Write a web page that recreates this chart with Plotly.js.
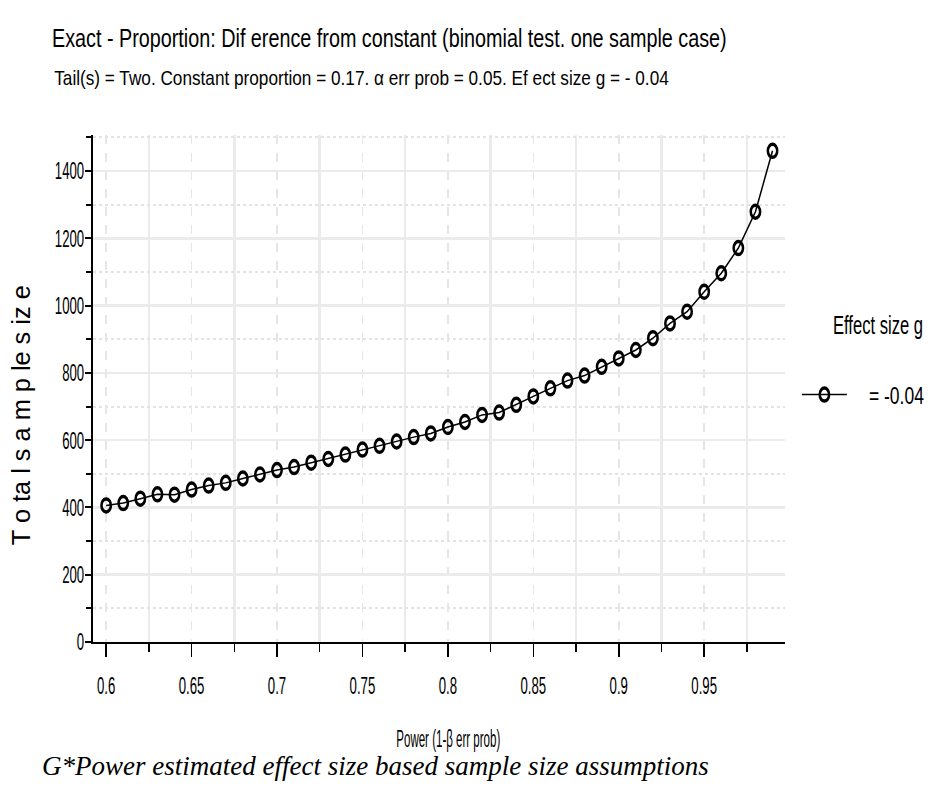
<!DOCTYPE html>
<html>
<head>
<meta charset="utf-8">
<script src="https://cdn.plot.ly/plotly-3.0.1.min.js"></script>
<style>
  html, body { margin: 0; padding: 0; background: #ffffff; }
  #chart { width: 945px; height: 803px; }
</style>
</head>
<body>
<div id="chart"></div>
<script>
// Power (1-β err prob) on the x axis
const power = [
  0.60, 0.61, 0.62, 0.63, 0.64, 0.65, 0.66, 0.67, 0.68, 0.69,
  0.70, 0.71, 0.72, 0.73, 0.74, 0.75, 0.76, 0.77, 0.78, 0.79,
  0.80, 0.81, 0.82, 0.83, 0.84, 0.85, 0.86, 0.87, 0.88, 0.89,
  0.90, 0.91, 0.92, 0.93, 0.94, 0.95, 0.96, 0.97, 0.98, 0.99
];

// Total sample size required at each power level (g = -0.04)
const totalSampleSize = [
  406, 413, 426, 439, 438, 453, 465, 473, 486, 498,
  511, 520, 533, 544, 557, 572, 583, 596, 609, 620,
  639, 654, 675, 682, 705, 730, 754, 777, 792, 818,
  843, 868, 903, 947, 982, 1041, 1096, 1171, 1279, 1460
];

const xTickVals = [0.6, 0.65, 0.7, 0.75, 0.8, 0.85, 0.9, 0.95];
const xTickText = ['0.6', '0.65', '0.7', '0.75', '0.8', '0.85', '0.9', '0.95'];
const yTickVals = [0, 200, 400, 600, 800, 1000, 1200, 1400];
const yTickText = ['0', '200', '400', '600', '800', '1000', '1200', '1400'];

const seriesName = '= -0.04';
const titleText = 'Exact - Proportion: Dif erence from constant (binomial test. one sample case)';
const subtitleText = 'Tail(s) = Two. Constant proportion = 0.17. α err prob = 0.05. Ef ect size g = - 0.04';
const xTitle = 'Power (1-β err prob)';
const yTitle = 'T o ta l s a m p le s iz e';
const legendHeading = 'Effect size g';
const caption = 'G*Power estimated effect size based sample size assumptions';

const sans = '"Liberation Sans", Arial, sans-serif';
const serif = '"Liberation Serif", "Times New Roman", serif';

// plot area in pixels
const M = { l: 93, r: 154, t: 135, b: 161 };
const W = 945, H = 803;
const pw = W - M.l - M.r, ph = H - M.t - M.b;
const px = v => (v - M.l) / pw;          // pixel x -> paper x
const py = v => (H - M.b - v) / ph;      // pixel y -> paper y

const trace = {
  type: 'scatter',
  mode: 'lines+markers',
  x: power,
  y: totalSampleSize,
  name: seriesName,
  line: { color: '#000000', width: 1.5 },
  marker: {
    symbol: 'circle-open',
    size: 13,
    color: '#000000',
    line: { color: '#000000', width: 3.5 }
  },
  hoverinfo: 'x+y'
};

const layout = {
  width: W,
  height: H,
  paper_bgcolor: '#ffffff',
  plot_bgcolor: '#ffffff',
  margin: M,
  font: { family: sans, color: '#000000', size: 16 },
  title: {
    text: titleText,
    font: { family: sans, size: 25, color: '#000000' },
    xref: 'container', yref: 'container',
    x: 52 / W, xanchor: 'left',
    y: 1 - 38 / H, yanchor: 'middle'
  },
  showlegend: true,
  legend: {
    x: px(803), xanchor: 'left',
    y: py(395), yanchor: 'middle',
    bgcolor: 'rgba(0,0,0,0)',
    borderwidth: 0,
    font: { family: sans, size: 24, color: '#000000' },
    itemwidth: 45
  },
  xaxis: {
    range: [0.5923, 0.9973],
    showline: true, linecolor: '#000000', linewidth: 2,
    zeroline: false,
    tickmode: 'array', tickvals: xTickVals, ticktext: xTickText,
    ticks: 'outside', ticklen: 13, tickwidth: 1.5, tickcolor: '#000000',
    ticklabelstandoff: 8,
    tickfont: { family: sans, size: 24, color: '#000000' },
    showgrid: true, gridcolor: '#e6e6e6', gridwidth: 1.5, griddash: 'dash',
    minor: {
      tick0: 0.625, dtick: 0.05,
      ticks: 'outside', ticklen: 8, tickwidth: 1.5, tickcolor: '#000000',
      showgrid: true, gridcolor: '#ebebeb', gridwidth: 2.5, griddash: 'solid'
    }
  },
  yaxis: {
    range: [0, 1507],
    showline: true, linecolor: '#000000', linewidth: 2,
    zeroline: false,
    tickmode: 'array', tickvals: yTickVals, ticktext: yTickText,
    ticks: 'outside', ticklen: 6, tickwidth: 2, tickcolor: '#000000',
    tickfont: { family: sans, size: 24, color: '#000000' },
    showgrid: true, gridcolor: '#ebebeb', gridwidth: 2.5, griddash: 'solid',
    minor: {
      tick0: 100, dtick: 200,
      ticks: 'outside', ticklen: 5, tickwidth: 2, tickcolor: '#000000',
      showgrid: true, gridcolor: '#e3e3e3', gridwidth: 2, griddash: 'dot'
    }
  },
  annotations: [
    {
      text: subtitleText,
      xref: 'paper', yref: 'paper',
      x: px(52), xanchor: 'left',
      y: py(78), yanchor: 'middle',
      showarrow: false,
      font: { family: sans, size: 20, color: '#000000' }
    },
    {
      text: xTitle,
      xref: 'paper', yref: 'paper',
      x: px(452), xanchor: 'center',
      y: py(738), yanchor: 'middle',
      showarrow: false,
      font: { family: sans, size: 24, color: '#000000' }
    },
    {
      text: yTitle,
      xref: 'paper', yref: 'paper',
      x: px(20), xanchor: 'center',
      y: py(415), yanchor: 'middle',
      textangle: -90,
      showarrow: false,
      font: { family: sans, size: 26, color: '#000000' }
    },
    {
      text: legendHeading,
      xref: 'paper', yref: 'paper',
      x: px(837), xanchor: 'left',
      y: py(325), yanchor: 'middle',
      showarrow: false,
      font: { family: sans, size: 25, color: '#000000' }
    },
    {
      text: '<i>' + caption + '</i>',
      xref: 'paper', yref: 'paper',
      x: px(40), xanchor: 'left',
      y: py(766), yanchor: 'middle',
      showarrow: false,
      font: { family: serif, size: 27, color: '#000000' }
    }
  ]
};

// Condense a text element horizontally (in its own writing direction).
// opts.scale: fixed factor, or opts.width: target width in px.
function condense(el, opts) {
  if (!el) return;
  const bb = el.getBBox();
  if (!bb.width) return;
  const sx = opts.width ? opts.width / bb.width : opts.scale;
  const ox = opts.anchor === 'start' ? bb.x
           : opts.anchor === 'end' ? bb.x + bb.width
           : bb.x + bb.width / 2;
  const oy = bb.y + bb.height / 2;
  const dx = opts.dx || 0;
  const prev = el.getAttribute('transform') || '';
  el.setAttribute('transform',
    prev + ' translate(' + (ox + dx) + ',' + oy + ') scale(' + sx + ',1) translate(' + (-ox) + ',' + (-oy) + ')');
}

const gd = document.getElementById('chart');
Plotly.newPlot(gd, [trace], layout, { displayModeBar: false, staticPlot: true }).then(() => {
  const tickScale = 0.55;
  gd.querySelectorAll('.xtick text').forEach(t => condense(t, { scale: tickScale, anchor: 'middle' }));
  gd.querySelectorAll('.ytick text').forEach(t => condense(t, { scale: tickScale, anchor: 'end', dx: 4 }));

  condense(gd.querySelector('.gtitle'), { width: 675, anchor: 'start' });

  const ann = gd.querySelectorAll('.annotation-text');
  condense(ann[0], { width: 615, anchor: 'start' });   // subtitle
  condense(ann[1], { width: 104, anchor: 'middle' });  // x title
  condense(ann[2], { width: 260, anchor: 'middle' });  // y title
  condense(ann[3], { width: 90, anchor: 'start' });    // legend heading

  gd.querySelectorAll('.legend .legendtext').forEach(t => condense(t, { width: 55, anchor: 'start', dx: 17 }));

  // oval point markers
  gd.querySelectorAll('.scatterlayer .points path, .legend .legendpoints path.scatterpts').forEach(p => {
    const prev = p.getAttribute('transform') || '';
    p.setAttribute('transform', prev + ' scale(0.72,1)');
  });
});
</script>
</body>
</html>
